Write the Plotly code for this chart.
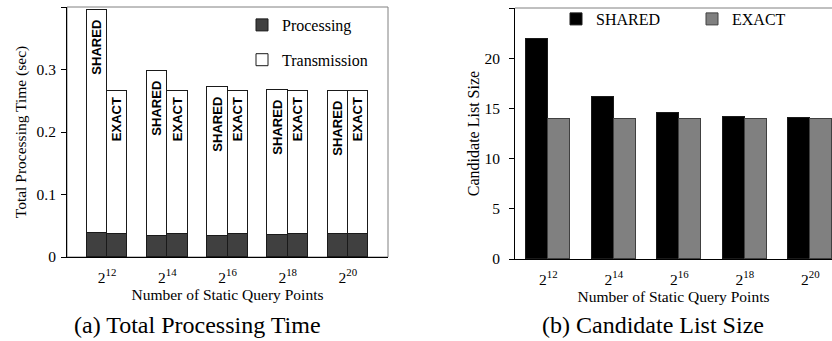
import plotly.graph_objects as go

# ---- data ----
query_points = ["2<sup>12</sup>", "2<sup>14</sup>", "2<sup>16</sup>", "2<sup>18</sup>", "2<sup>20</sup>"]
shared_total = [0.396, 0.298, 0.272, 0.267, 0.266]
exact_total = [0.266, 0.266, 0.266, 0.266, 0.266]
shared_proc = [0.038, 0.034, 0.034, 0.035, 0.037]
exact_proc = [0.037, 0.037, 0.037, 0.037, 0.037]
shared_cand = [21.9, 16.1, 14.5, 14.1, 14.0]
exact_cand = [13.95, 13.95, 13.95, 13.95, 13.95]

W, H = 832, 341
SERIF = "'Liberation Serif', 'Times New Roman', Times, serif"
SANS = "'Liberation Sans', Arial, Helvetica, sans-serif"

idx = list(range(len(query_points)))
wl = 0.338
wr = 0.339
xs_l = [i - wl / 2 for i in idx]
xe_l = [i + wl / 2 for i in idx]
xs_r = [i - wr / 2 for i in idx]
xe_r = [i + wr / 2 for i in idx]

shared_trans = [t - p for t, p in zip(shared_total, shared_proc)]
exact_trans = [t - p for t, p in zip(exact_total, exact_proc)]

fig = go.Figure()

outline = dict(color="#1a1a1a", width=1)

fig.add_trace(go.Bar(
    x=xs_l + xe_l, y=shared_proc + exact_proc, width=wl,
    name="Processing", marker=dict(color="#404040", line=outline),
    xaxis="x", yaxis="y", legend="legend", legendgroup="p",
))
fig.add_trace(go.Bar(
    x=xs_l + xe_l, y=shared_trans + exact_trans, width=wl,
    name="Transmission", marker=dict(color="#ffffff", line=outline),
    text=["<b>SHARED\u00a0\u00a0</b>"] * 5 + ["<b>EXACT\u00a0</b>"] * 5,
    textposition="inside", insidetextanchor="end", textangle=-90,
    constraintext="none",
    textfont=dict(family=SANS, size=13, color="#000000"),
    xaxis="x", yaxis="y", legend="legend", legendgroup="t",
))

fig.add_trace(go.Bar(
    x=xs_r, y=shared_cand, width=wr, name="SHARED",
    marker=dict(color="#000000", line=outline),
    xaxis="x2", yaxis="y2", legend="legend2",
))
fig.add_trace(go.Bar(
    x=xe_r, y=exact_cand, width=wr, name="EXACT",
    marker=dict(color="#808080", line=dict(color="#404040", width=1)),
    xaxis="x2", yaxis="y2", legend="legend2",
))

axis_font = dict(family=SERIF, size=15.5, color="#000000")

xcommon = dict(
    tickmode="array", tickvals=idx, ticktext=query_points,
    ticks="", ticklabelstandoff=6,
    showline=True, linecolor="#000000", linewidth=1,
    showgrid=False, zeroline=False, tickfont=axis_font,
    fixedrange=True, automargin=False,
)
ycommon = dict(
    ticks="outside", ticklen=5, tickcolor="#000000",
    showline=True, linecolor="#000000", linewidth=1,
    showgrid=False, zeroline=False, tickfont=axis_font, fixedrange=True,
    automargin=False,
)

fig.update_layout(
    width=W, height=H,
    margin=dict(l=0, r=0, t=0, b=0, autoexpand=False),
    paper_bgcolor="#ffffff", plot_bgcolor="#ffffff",
    barmode="stack", bargap=0,
    showlegend=True,
    xaxis=dict(domain=[67 / W, 388 / W], range=[-0.667, 4.667], anchor="y",
               title=dict(text="Number of Static Query Points", font=axis_font, standoff=3),
               **xcommon),
    xaxis2=dict(domain=[515 / W, 1.0], range=[-0.508, 4.332], anchor="y2",
                title=dict(text="Number of Static Query Points", font=axis_font, standoff=2),
                **xcommon),
    yaxis=dict(domain=[(H - 257) / H, (H - 7) / H], range=[0, 0.4], dtick=0.1, anchor="x",
               title=dict(text="Total Processing Time (sec)", font=axis_font, standoff=6),
               ticklabelstandoff=2, **ycommon),
    yaxis2=dict(domain=[(H - 259) / H, (H - 8) / H], range=[0, 25], dtick=5, anchor="x2",
                title=dict(text="Candidate List Size", font=dict(family=SERIF, size=16, color="#000000"), standoff=0),
                ticklabelstandoff=6, **ycommon),
    legend=dict(
        x=242 / W, y=(H - 8) / H, xanchor="left", yanchor="top",
        orientation="v", bgcolor="rgba(0,0,0,0)", borderwidth=0,
        font=dict(family=SERIF, size=16, color="#000000"),
        tracegroupgap=11, traceorder="grouped",
    ),
    legend2=dict(
        x=556 / W, y=(H - 19) / H, xanchor="left", yanchor="middle",
        orientation="h", bgcolor="rgba(0,0,0,0)", borderwidth=0,
        font=dict(family=SERIF, size=16, color="#000000"),
        entrywidth=91, entrywidthmode="pixels", traceorder="normal",
    ),
    shapes=[
        dict(type="rect", xref="x domain", yref="y domain", x0=0, x1=1, y0=0, y1=1,
             line=dict(color="#808080", width=1), layer="below"),
        dict(type="line", xref="x2 domain", yref="y2 domain", x0=0, x1=1, y0=1, y1=1,
             line=dict(color="#808080", width=1)),
    ],
    annotations=[
        dict(text="(a) Total Processing Time", xref="paper", yref="paper",
             x=197 / W, y=(H - 325) / H, xanchor="center", yanchor="middle",
             showarrow=False, font=dict(family=SERIF, size=24, color="#000000")),
        dict(text="(b) Candidate List Size", xref="paper", yref="paper",
             x=653 / W, y=(H - 325) / H, xanchor="center", yanchor="middle",
             showarrow=False, font=dict(family=SERIF, size=24, color="#000000")),
    ],
)

fig.write_html(
    "out.html",
    config={"displayModeBar": False},
    post_script="document.body.style.margin='0';document.body.style.overflow='hidden';",
)
